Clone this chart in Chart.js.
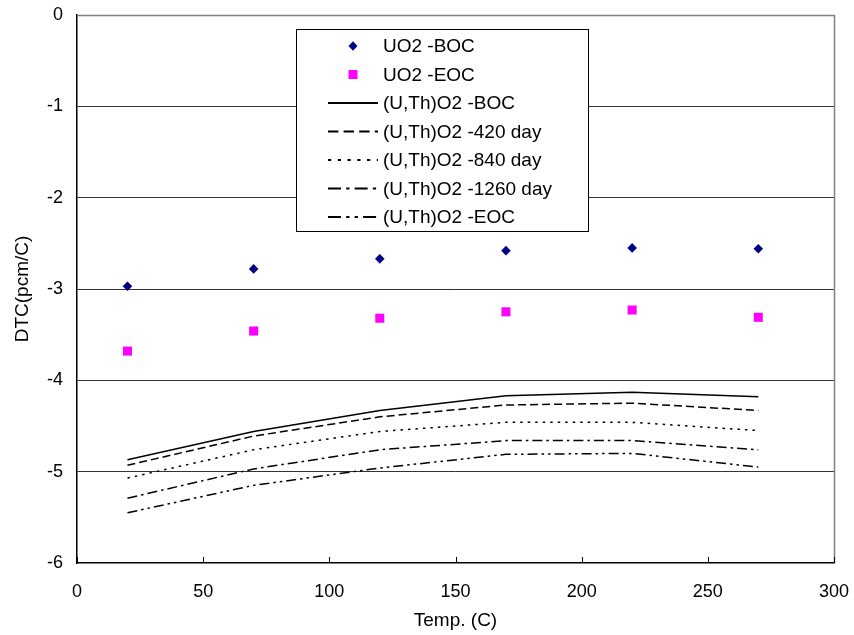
<!DOCTYPE html>
<html>
<head>
<meta charset="utf-8">
<style>
  html, body { margin: 0; padding: 0; background: #ffffff; }
  #wrap { width: 854px; height: 635px; position: relative; }
</style>
<script src="https://cdn.jsdelivr.net/npm/chart.js@4"></script>
</head>
<body>
<div id="wrap"><canvas id="c" width="854" height="635"></canvas></div>
<script>
// ---- Data ----
const temps = [20, 70, 120, 170, 220, 270];
const uo2Boc = [-2.97, -2.78, -2.67, -2.58, -2.55, -2.56];
const uo2Eoc = [-3.68, -3.46, -3.32, -3.25, -3.23, -3.31];
const thBoc = [-4.87, -4.56, -4.33, -4.17, -4.13, -4.18];
const th420 = [-4.93, -4.61, -4.40, -4.27, -4.25, -4.33];
const th840 = [-5.07, -4.76, -4.56, -4.46, -4.46, -4.55];
const th1260 = [-5.29, -4.97, -4.76, -4.66, -4.66, -4.76];
const thEoc = [-5.45, -5.15, -4.96, -4.81, -4.80, -4.95];
const seriesNames = ['UO2 -BOC', 'UO2 -EOC', '(U,Th)O2 -BOC', '(U,Th)O2 -420 day',
  '(U,Th)O2 -840 day', '(U,Th)O2 -1260 day', '(U,Th)O2 -EOC'];
const xTicks = [0, 50, 100, 150, 200, 250, 300];
const yTicks = [0, -1, -2, -3, -4, -5, -6];
const xTitle = 'Temp. (C)';
const yTitle = 'DTC(pcm/C)';

const FONT = '"Liberation Sans", Arial, sans-serif';
const pts = (ys) => temps.map((x, i) => ({x: x, y: ys[i]}));

function lineDs(label, ys, dash) {
  return {
    label: label, data: pts(ys), showLine: true, borderColor: '#000000',
    backgroundColor: '#000000', borderWidth: 1.5, borderDash: dash,
    pointRadius: 0, pointHoverRadius: 0, tension: 0, fill: false
  };
}

const datasets = [
  { label: seriesNames[0], data: pts(uo2Boc), showLine: false, pointStyle: 'rectRot',
    pointRadius: 4.8, backgroundColor: '#000080', borderColor: '#000080', borderWidth: 0 },
  { label: seriesNames[1], data: pts(uo2Eoc), showLine: false, pointStyle: 'rect',
    pointRadius: 6.4, backgroundColor: '#FF00FF', borderColor: '#FF00FF', borderWidth: 0 },
  lineDs(seriesNames[2], thBoc, []),
  lineDs(seriesNames[3], th420, [8, 4]),
  lineDs(seriesNames[4], th840, [2.5, 5]),
  lineDs(seriesNames[5], th1260, [10, 4, 2.5, 4]),
  lineDs(seriesNames[6], thEoc, [10, 4, 2.5, 4, 2.5, 4])
];

// Frame (top/right gray border) and inward x ticks
const framePlugin = {
  id: 'frame',
  afterDatasetsDraw(chart) {
    const {ctx, chartArea: a, scales} = chart;
    ctx.save();
    ctx.strokeStyle = '#808080';
    ctx.lineWidth = 1.5;
    ctx.beginPath();
    ctx.moveTo(a.left, a.top + 0.5);
    ctx.lineTo(a.right + 0.5, a.top + 0.5);
    ctx.lineTo(a.right + 0.5, a.bottom);
    ctx.stroke();
    ctx.strokeStyle = '#000000';
    ctx.lineWidth = 1;
    ctx.beginPath();
    xTicks.forEach(v => {
      const px = Math.round(scales.x.getPixelForValue(v)) + 0.5;
      ctx.moveTo(px, a.bottom);
      ctx.lineTo(px, a.bottom - 6);
    });
    ctx.stroke();
    ctx.restore();
  }
};

// Legend box inside the plot
const legendPlugin = {
  id: 'boxLegend',
  afterDraw(chart) {
    const ctx = chart.ctx;
    const x0 = 296.5, y0 = 29.5, w = 292, h = 202;
    ctx.save();
    ctx.fillStyle = '#ffffff';
    ctx.fillRect(x0, y0, w, h);
    ctx.strokeStyle = '#000000';
    ctx.lineWidth = 1;
    ctx.strokeRect(x0, y0, w, h);
    ctx.font = '19px ' + FONT;
    ctx.textBaseline = 'middle';
    ctx.textAlign = 'left';
    chart.data.datasets.forEach((ds, i) => {
      const cy = 46 + i * 28.5;
      if (i === 0) {
        ctx.fillStyle = ds.backgroundColor;
        ctx.beginPath();
        ctx.moveTo(353, cy - 4.8); ctx.lineTo(357.5, cy); ctx.lineTo(353, cy + 4.8); ctx.lineTo(348.5, cy);
        ctx.closePath(); ctx.fill();
      } else if (i === 1) {
        ctx.fillStyle = ds.backgroundColor;
        ctx.fillRect(348.5, cy - 4.5, 9, 9);
      } else {
        ctx.strokeStyle = '#000000';
        ctx.lineWidth = 2;
        ctx.setLineDash((ds.borderDash || []).map(v => v * 1.3));
        ctx.beginPath();
        ctx.moveTo(328, cy); ctx.lineTo(378, cy);
        ctx.stroke();
        ctx.setLineDash([]);
      }
      ctx.fillStyle = '#000000';
      ctx.fillText(ds.label, 383, cy + 1);
    });
    ctx.restore();
  }
};

new Chart(document.getElementById('c'), {
  type: 'scatter',
  data: { datasets: datasets },
  plugins: [framePlugin, legendPlugin],
  options: {
    responsive: false,
    animation: false,
    layout: { padding: { top: 15, right: 20, left: 0, bottom: 0 } },
    plugins: { legend: { display: false }, tooltip: { enabled: false } },
    scales: {
      x: {
        type: 'linear', min: 0, max: 300,
        afterBuildTicks: (s) => { s.ticks = xTicks.map(v => ({value: v})); },
        afterFit: (s) => { s.height = 72; s.paddingLeft = 0; s.paddingRight = 0; },
        grid: { display: true, drawOnChartArea: false, drawTicks: false },
        border: { display: true, color: '#000000', width: 1.5 },
        ticks: { color: '#000000', font: { family: FONT, size: 18 }, padding: 18, maxRotation: 0 },
        title: { display: true, text: xTitle, color: '#000000',
          font: { family: FONT, size: 19 }, padding: { top: 0, bottom: 3 } }
      },
      y: {
        type: 'linear', min: -6, max: 0,
        afterBuildTicks: (s) => { s.ticks = yTicks.map(v => ({value: v})); },
        afterFit: (s) => { s.width = 77; s.paddingTop = 0; s.paddingBottom = 0; },
        grid: {
          drawTicks: false,
          color: (c) => (c.tick && (c.tick.value === 0 || c.tick.value === -6)) ? 'rgba(0,0,0,0)' : '#333333',
          lineWidth: 1
        },
        border: { display: true, color: '#000000', width: 1.5 },
        ticks: { color: '#000000', font: { family: FONT, size: 18 }, padding: 14 },
        title: { display: true, text: yTitle, color: '#000000',
          font: { family: FONT, size: 19 }, padding: { top: 11, bottom: 0 } }
      }
    }
  }
});
</script>
</body>
</html>
